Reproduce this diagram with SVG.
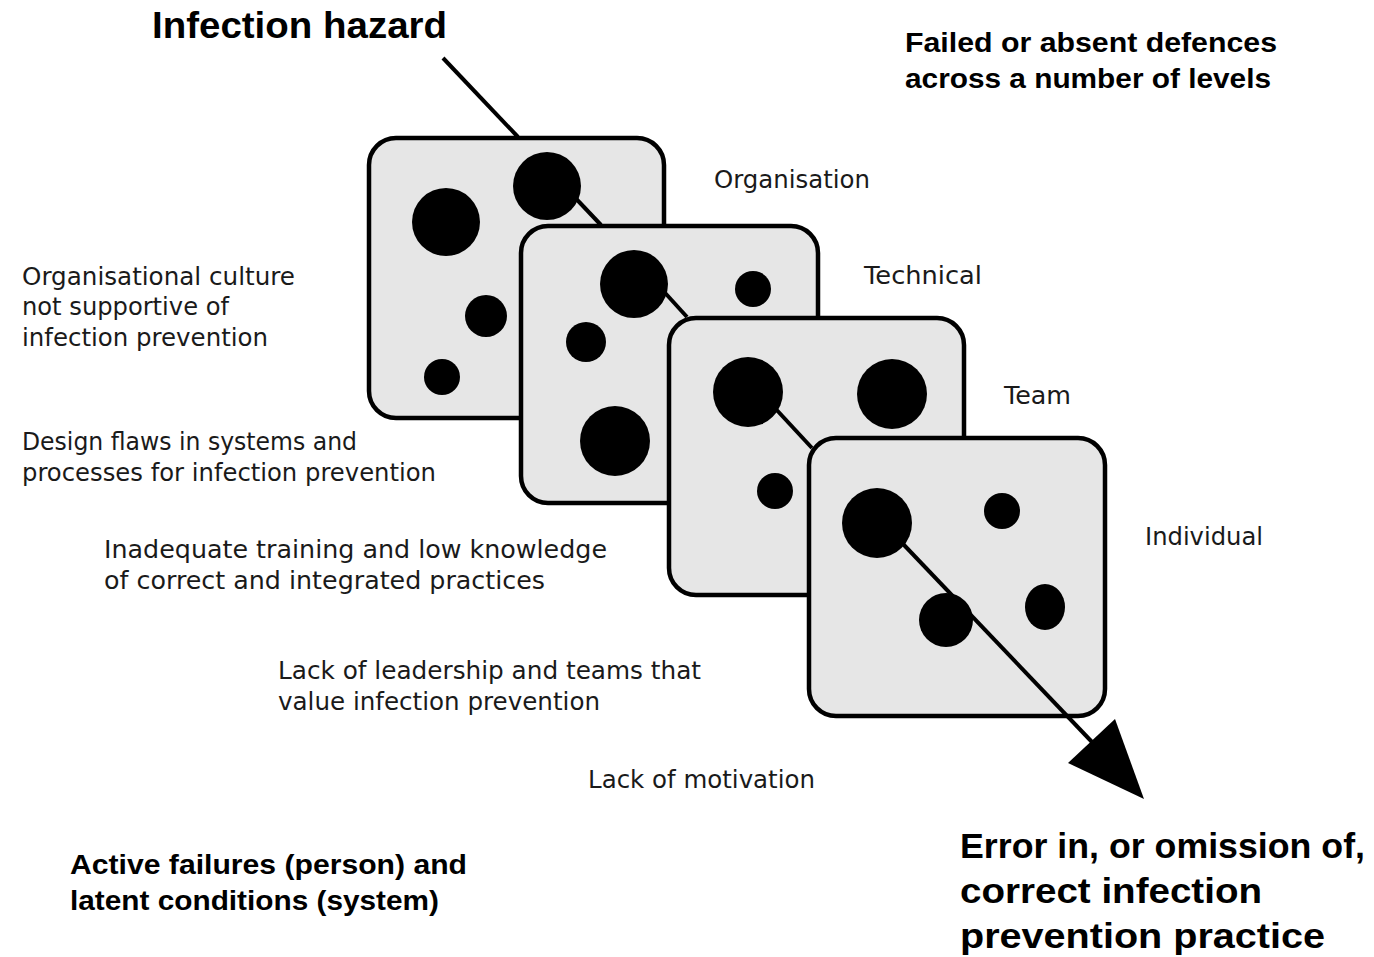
<svg xmlns="http://www.w3.org/2000/svg" width="1374" height="957" viewBox="0 0 1374 957">
<style>
.panel{fill:#e6e6e6;stroke:#000;stroke-width:4.5}
.hole{fill:#000}
.conn{stroke:#000;stroke-width:4;fill:none}
.reg{font-family:"DejaVu Sans","Liberation Sans",sans-serif;font-size:24px;fill:#1a1a1a}
.bold{font-family:"Liberation Sans",Arial,sans-serif;font-weight:bold;fill:#000}
</style>
<rect width="1374" height="957" fill="#fff"/>
<g id="panel-organisation">
<rect class="panel" x="369" y="138" width="295" height="280" rx="27"/>
<circle class="hole" cx="446" cy="222" r="34"/>
<circle class="hole" cx="547" cy="186" r="34"/>
<circle class="hole" cx="486" cy="316" r="21"/>
<circle class="hole" cx="442" cy="377" r="18"/>
</g>
<g id="panel-technical">
<rect class="panel" x="521" y="226" width="297" height="277" rx="27"/>
<circle class="hole" cx="634" cy="284" r="34"/>
<circle class="hole" cx="753" cy="289" r="18"/>
<circle class="hole" cx="586" cy="342" r="20"/>
<circle class="hole" cx="615" cy="441" r="35"/>
</g>
<g id="panel-team">
<rect class="panel" x="669" y="318" width="295" height="277" rx="27"/>
<circle class="hole" cx="748" cy="392" r="35"/>
<circle class="hole" cx="892" cy="394" r="35"/>
<circle class="hole" cx="775" cy="491" r="18"/>
</g>
<g id="panel-individual">
<rect class="panel" x="809" y="438" width="296" height="278" rx="27"/>
<circle class="hole" cx="877" cy="523" r="35"/>
<circle class="hole" cx="1002" cy="511" r="18"/>
<circle class="hole" cx="946" cy="620" r="27"/>
<ellipse class="hole" cx="1045" cy="607" rx="20" ry="23"/>
</g>
<g id="connectors">
<line class="conn" x1="443" y1="58" x2="518" y2="137"/>
<line class="conn" x1="564" y1="186" x2="601" y2="225"/>
<line class="conn" x1="657" y1="284" x2="687" y2="317"/>
<line class="conn" x1="760" y1="392" x2="812" y2="448"/>
<line class="conn" x1="883" y1="523" x2="1092" y2="742"/>
<polygon points="1144,799 1068,763 1115,719" fill="#000"/>
</g>
<g id="titles">
<text class="bold" x="152" y="38" font-size="36" textLength="295" lengthAdjust="spacingAndGlyphs">Infection hazard</text>
<text class="bold" x="905" y="52" font-size="28" textLength="372" lengthAdjust="spacingAndGlyphs">Failed or absent defences</text>
<text class="bold" x="905" y="88" font-size="28" textLength="366" lengthAdjust="spacingAndGlyphs">across a number of levels</text>
<text class="bold" x="70" y="874" font-size="27" textLength="397" lengthAdjust="spacingAndGlyphs">Active failures (person) and</text>
<text class="bold" x="70" y="910" font-size="27" textLength="369" lengthAdjust="spacingAndGlyphs">latent conditions (system)</text>
<text class="bold" x="960" y="858" font-size="35" textLength="405" lengthAdjust="spacingAndGlyphs">Error in, or omission of,</text>
<text class="bold" x="960" y="903" font-size="35" textLength="302" lengthAdjust="spacingAndGlyphs">correct infection</text>
<text class="bold" x="960" y="948" font-size="35" textLength="365" lengthAdjust="spacingAndGlyphs">prevention practice</text>
</g>
<g id="level-labels">
<text class="reg" x="714" y="188" textLength="156" lengthAdjust="spacingAndGlyphs">Organisation</text>
<text class="reg" x="864" y="284" textLength="118" lengthAdjust="spacingAndGlyphs">Technical</text>
<text class="reg" x="1004" y="404" textLength="67" lengthAdjust="spacingAndGlyphs">Team</text>
<text class="reg" x="1145" y="545" textLength="118" lengthAdjust="spacingAndGlyphs">Individual</text>
</g>
<g id="failure-labels">
<text class="reg" x="22" y="285" textLength="273" lengthAdjust="spacingAndGlyphs">Organisational culture</text>
<text class="reg" x="22" y="315" textLength="207" lengthAdjust="spacingAndGlyphs">not supportive of</text>
<text class="reg" x="22" y="346" textLength="246" lengthAdjust="spacingAndGlyphs">infection prevention</text>
<text class="reg" x="22" y="450" textLength="335" lengthAdjust="spacingAndGlyphs">Design flaws in systems and</text>
<text class="reg" x="22" y="481" textLength="414" lengthAdjust="spacingAndGlyphs">processes for infection prevention</text>
<text class="reg" x="104" y="558" textLength="503" lengthAdjust="spacingAndGlyphs">Inadequate training and low knowledge</text>
<text class="reg" x="104" y="589" textLength="441" lengthAdjust="spacingAndGlyphs">of correct and integrated practices</text>
<text class="reg" x="278" y="679" textLength="423" lengthAdjust="spacingAndGlyphs">Lack of leadership and teams that</text>
<text class="reg" x="278" y="710" textLength="322" lengthAdjust="spacingAndGlyphs">value infection prevention</text>
<text class="reg" x="588" y="788" textLength="227" lengthAdjust="spacingAndGlyphs">Lack of motivation</text>
</g>
</svg>
